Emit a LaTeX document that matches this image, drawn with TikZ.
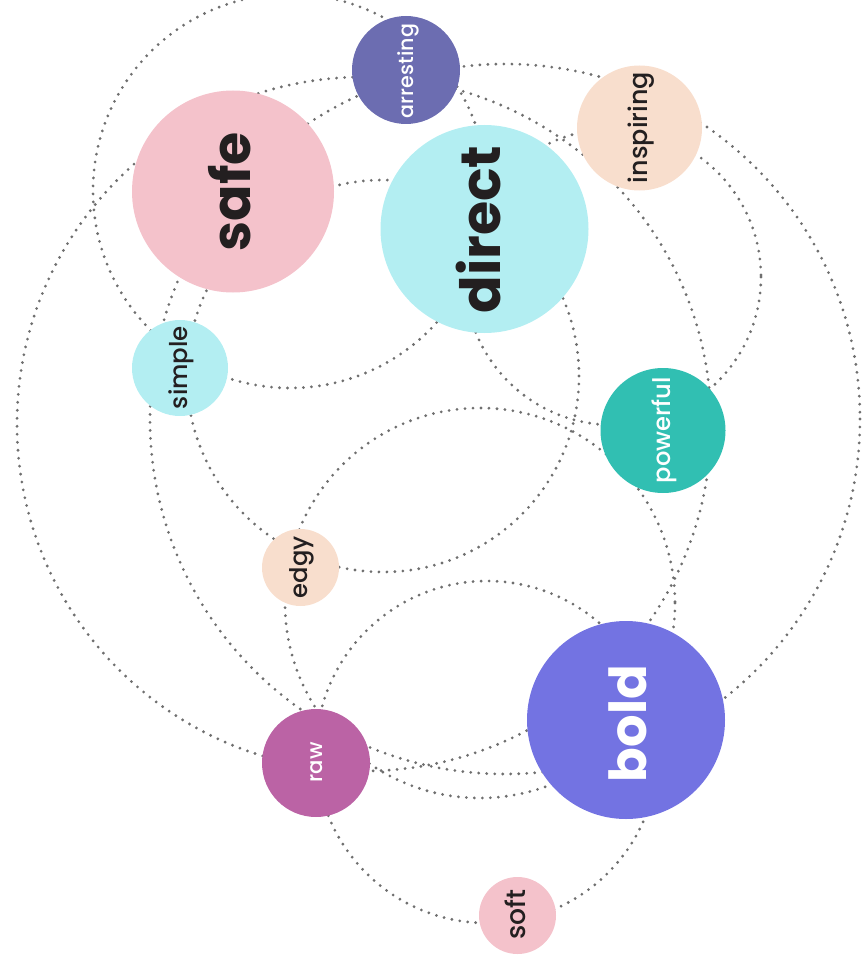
\documentclass[tikz,border=0pt]{standalone}
\usepackage{graphicx}
\usepackage{fontspec}
\setmainfont{Poppins}
\newfontfamily\popmed{Poppins Medium}
\definecolor{cArr}{HTML}{6C6DB1}
\definecolor{cPink}{HTML}{F4C2CB}
\definecolor{cCyan}{HTML}{B3EEF2}
\definecolor{cPeach}{HTML}{F8DECD}
\definecolor{cTeal}{HTML}{31BFB2}
\definecolor{cRaw}{HTML}{BB63A5}
\definecolor{cBold}{HTML}{7373E2}
\definecolor{cText}{HTML}{231F20}
\definecolor{dotgray}{HTML}{6F6F6F}
\newcommand\fitw[2]{\resizebox{#1}{!}{#2}}
\tikzset{
  ring/.style={draw=dotgray, line width=3.1pt, line cap=round, dash pattern=on 0pt off 8pt},
  ball/.style={circle, draw=none, inner sep=0pt},
  lbl/.style={rotate=90, inner sep=0pt, anchor=base},
}
\begin{document}
\begin{tikzpicture}[x=1pt, y=-1pt]
\useasboundingbox (0,0) rectangle (863,960);
% ring centres
\coordinate (k1) at (383,376);
\coordinate (k2) at (364,424);
\coordinate (k3) at (505,419);
\coordinate (k4) at (290,191);
\coordinate (k5) at (480,603);
\coordinate (k6) at (613,277);
\coordinate (k7) at (487,752);
\begin{scope}
\clip (0,0) rectangle (863,960);
\draw[ring] (k1) circle[radius=196];
\draw[ring] (k2) circle[radius=347];
\draw[ring] (k3) circle[radius=355];
\draw[ring] (k4) circle[radius=197];
\draw[ring] (k5) circle[radius=195];
\draw[ring] (k6) circle[radius=148];
\draw[ring] (k7) circle[radius=171];
\end{scope}
% discs
\node[ball, fill=cArr,   minimum size=108pt] (arresting) at (406,70) {};
\node[ball, fill=cPink,  minimum size=202pt] (safe)      at (233,191.5) {};
\node[ball, fill=cCyan,  minimum size=208pt] (direct)    at (484.5,229) {};
\node[ball, fill=cPeach, minimum size=125pt] (inspiring) at (639.5,128) {};
\node[ball, fill=cCyan,  minimum size=96pt]  (simple)    at (180,368) {};
\node[ball, fill=cTeal,  minimum size=125pt] (powerful)  at (663,430.5) {};
\node[ball, fill=cPeach, minimum size=77pt]  (edgy)      at (300.5,567.5) {};
\node[ball, fill=cRaw,   minimum size=108pt] (raw)       at (316,763) {};
\node[ball, fill=cBold,  minimum size=198pt] (bold)      at (626,720) {};
\node[ball, fill=cPink,  minimum size=77pt]  (soft)      at (517.5,915.5) {};
% labels
\node[lbl, text=cText] (safe-t)      at (250,191.5)   {\fitw{119pt}{\bfseries safe}};
\node[lbl, text=cText] (direct-t)    at (500,229.5)   {\fitw{168pt}{\bfseries direct}};
\node[lbl, text=white] (bold-t)      at (646,723.5)   {\fitw{117pt}{\bfseries bold}};
\node[lbl, text=white] (arresting-t) at (413,71)      {\fitw{94pt}{\popmed arresting}};
\node[lbl, text=cText] (inspiring-t) at (647,127.5)   {\fitw{111pt}{\popmed inspiring}};
\node[lbl, text=cText] (simple-t)    at (187.5,367.5) {\fitw{83pt}{\popmed simple}};
\node[lbl, text=white] (powerful-t)  at (670.5,430)   {\fitw{106pt}{\popmed powerful}};
\node[lbl, text=cText] (edgy-t)      at (307.5,567)   {\fitw{62pt}{\popmed edgy}};
\node[lbl, text=white] (raw-t)       at (322.5,762.5) {\fitw{40pt}{\popmed raw}};
\node[lbl, text=cText] (soft-t)      at (525,914.5)   {\fitw{50pt}{\popmed soft}};
\end{tikzpicture}
\end{document}
